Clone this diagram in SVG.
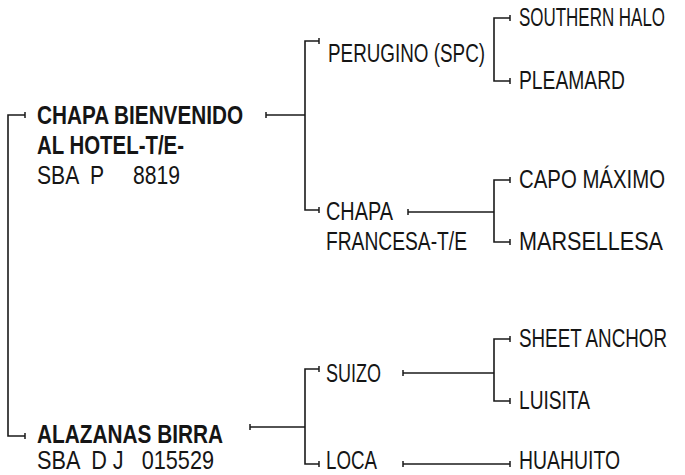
<svg xmlns="http://www.w3.org/2000/svg" width="685" height="475" viewBox="0 0 685 475">
<defs>
<marker id="tick" markerUnits="userSpaceOnUse" markerWidth="4" markerHeight="10" refX="2" refY="5" orient="auto" viewBox="0 0 4 10"><path d="M2,2 V8" stroke="#1a1a1a" stroke-width="1.5" fill="none"/></marker>
<style>
text{font-family:"Liberation Sans",Arial,sans-serif;font-size:25px;fill:#151515}
.b{font-weight:bold}
.c{fill:none;stroke:#1a1a1a;stroke-width:1.6}
.s{marker-start:url(#tick)}
.e{marker-end:url(#tick)}
</style>
</defs>
<g id="connectors">
<path class="c s e" d="M25,115 H8 V436 H25"/>
<path class="c s" d="M266,115 H305"/>
<path class="c s e" d="M319,41 H305 V210 H319"/>
<path class="c s e" d="M510,18 H494 V81 H510"/>
<path class="c s" d="M408,212 H494"/>
<path class="c s e" d="M510,180 H494 V242 H510"/>
<path class="c s" d="M250,427 H305"/>
<path class="c s e" d="M319,369 H305 V464 H319"/>
<path class="c s" d="M403,373 H494"/>
<path class="c s e" d="M510,339 H494 V401 H510"/>
<path class="c s e" d="M403,464 H510"/>
</g>
<g id="n-chapa-bienvenido">
<text class="b" transform="translate(37,124) scale(0.85,1)" textLength="242.4" lengthAdjust="spacingAndGlyphs">CHAPA BIENVENIDO</text>
<text class="b" transform="translate(37,154) scale(0.85,1)" textLength="172.9" lengthAdjust="spacingAndGlyphs">AL HOTEL-T/E-</text>
<text transform="translate(37,184) scale(0.72,1)" xml:space="preserve" textLength="198.6" lengthAdjust="spacingAndGlyphs">SBA  P     8819</text>
</g>
<g id="n-alazanas-birra">
<text class="b" transform="translate(37,443) scale(0.85,1)" textLength="218.8" lengthAdjust="spacingAndGlyphs">ALAZANAS BIRRA</text>
<text transform="translate(37,469) scale(0.72,1)" xml:space="preserve" textLength="245.8" lengthAdjust="spacingAndGlyphs">SBA  D J   015529</text>
</g>
<g id="n-perugino"><text transform="translate(328,62) scale(0.72,1)" textLength="218.1" lengthAdjust="spacingAndGlyphs">PERUGINO (SPC)</text></g>
<g id="n-chapa-francesa">
<text transform="translate(326,220) scale(0.72,1)" textLength="93.1" lengthAdjust="spacingAndGlyphs">CHAPA</text>
<text transform="translate(326,250) scale(0.72,1)" textLength="195.8" lengthAdjust="spacingAndGlyphs">FRANCESA-T/E</text>
</g>
<g id="n-suizo"><text transform="translate(326,382) scale(0.72,1)" textLength="76.4" lengthAdjust="spacingAndGlyphs">SUIZO</text></g>
<g id="n-loca"><text transform="translate(326,469) scale(0.72,1)" textLength="70.8" lengthAdjust="spacingAndGlyphs">LOCA</text></g>
<g id="n-southern-halo"><text transform="translate(519,26) scale(0.72,1)" textLength="202.8" lengthAdjust="spacingAndGlyphs">SOUTHERN HALO</text></g>
<g id="n-pleamard"><text transform="translate(519,89) scale(0.72,1)" textLength="147.2" lengthAdjust="spacingAndGlyphs">PLEAMARD</text></g>
<g id="n-capo-maximo"><text transform="translate(519,188) scale(0.72,1)" textLength="202.8" lengthAdjust="spacingAndGlyphs">CAPO MÁXIMO</text></g>
<g id="n-marsellesa"><text transform="translate(519,250) scale(0.72,1)" textLength="200" lengthAdjust="spacingAndGlyphs">MARSELLESA</text></g>
<g id="n-sheet-anchor"><text transform="translate(519,347) scale(0.72,1)" textLength="205.6" lengthAdjust="spacingAndGlyphs">SHEET ANCHOR</text></g>
<g id="n-luisita"><text transform="translate(519,409) scale(0.72,1)" textLength="98.6" lengthAdjust="spacingAndGlyphs">LUISITA</text></g>
<g id="n-huahuito"><text transform="translate(519,469) scale(0.72,1)" textLength="140.3" lengthAdjust="spacingAndGlyphs">HUAHUITO</text></g>
</svg>
